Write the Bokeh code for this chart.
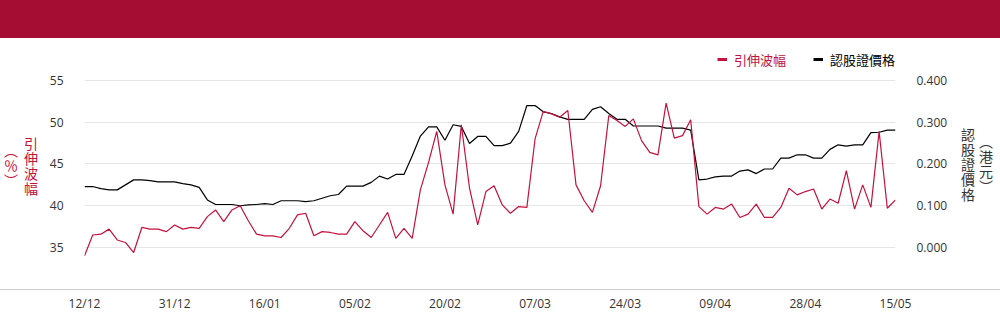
import numpy as np
from bokeh.plotting import figure
from bokeh.models import (Range1d, LinearAxis, FixedTicker, Legend, LegendItem,
                          Div, ColumnDataSource)
from bokeh.layouts import column, row
from bokeh.embed import file_html
from bokeh.resources import INLINE

dates = ["12/12", "13/12", "16/12", "17/12", "18/12", "19/12", "20/12", "23/12", "24/12", "27/12", "30/12", "31/12",
         "02/01", "03/01", "06/01", "07/01", "08/01", "09/01", "10/01", "13/01", "14/01", "15/01", "16/01",
         "17/01", "20/01", "21/01", "22/01", "23/01", "24/01", "27/01", "28/01",
         "03/02", "04/02", "05/02", "06/02", "07/02", "10/02", "11/02", "12/02", "13/02", "14/02", "17/02", "18/02",
         "19/02", "20/02", "21/02", "24/02", "25/02", "26/02", "27/02", "28/02",
         "03/03", "04/03", "05/03", "06/03", "07/03", "10/03", "11/03", "12/03", "13/03", "14/03", "17/03", "18/03",
         "19/03", "20/03", "21/03", "24/03", "25/03", "26/03", "27/03", "28/03", "31/03",
         "01/04", "02/04", "03/04", "07/04", "08/04", "09/04", "10/04", "11/04", "14/04", "15/04", "16/04", "17/04",
         "22/04", "23/04", "24/04", "25/04", "28/04", "29/04", "30/04",
         "02/05", "06/05", "07/05", "08/05", "09/05", "12/05", "13/05", "14/05", "15/05"]

implied_vol = [34.0, 36.5, 36.6, 37.2, 35.9, 35.6, 34.4, 37.4, 37.2, 37.2,
               36.9, 37.7, 37.2, 37.4, 37.3, 38.7, 39.5, 38.1, 39.5, 40.0,
               38.2, 36.6, 36.4, 36.4, 36.2, 37.3, 38.9, 39.1, 36.4, 36.9,
               36.8, 36.6, 36.6, 38.1, 37.0, 36.2, 37.7, 39.2, 36.1, 37.3,
               36.1, 41.9, 45.2, 48.9, 42.5, 39.0, 49.7, 42.1, 37.7, 41.7,
               42.4, 40.1, 39.1, 39.9, 39.8, 48.0, 51.3, 51.0, 50.6, 51.4,
               42.5, 40.6, 39.2, 42.4, 50.8, 50.2, 49.5, 50.4, 47.8, 46.4,
               46.1, 52.3, 48.1, 48.4, 50.3, 39.9, 39.0, 39.8, 39.6, 40.2,
               38.6, 39.0, 40.2, 38.6, 38.6, 39.8, 42.1, 41.3, 41.7, 42.0,
               39.6, 40.8, 40.3, 44.2, 39.6, 42.5, 39.8, 48.9, 39.7, 40.7]

warrant_price = [0.146, 0.146, 0.141, 0.138, 0.138, 0.150, 0.162, 0.162, 0.160, 0.157,
                 0.157, 0.157, 0.153, 0.150, 0.144, 0.114, 0.103, 0.103, 0.103, 0.100,
                 0.102, 0.103, 0.105, 0.103, 0.112, 0.112, 0.112, 0.110, 0.112, 0.118,
                 0.124, 0.127, 0.147, 0.147, 0.147, 0.156, 0.171, 0.164, 0.175, 0.175,
                 0.219, 0.267, 0.289, 0.289, 0.257, 0.294, 0.290, 0.249, 0.266, 0.266,
                 0.244, 0.244, 0.250, 0.278, 0.340, 0.340, 0.325, 0.321, 0.313, 0.307,
                 0.307, 0.307, 0.331, 0.337, 0.321, 0.307, 0.307, 0.291, 0.291, 0.291,
                 0.291, 0.286, 0.286, 0.286, 0.281, 0.162, 0.164, 0.169, 0.171, 0.171,
                 0.183, 0.186, 0.177, 0.188, 0.188, 0.214, 0.214, 0.222, 0.222, 0.214,
                 0.214, 0.235, 0.246, 0.243, 0.246, 0.246, 0.275, 0.276, 0.281, 0.281]

left_ticks = [35, 40, 45, 50, 55]
right_ticks = [0.0, 0.1, 0.2, 0.3, 0.4]
right_tick_labels = ["0.000", "0.100", "0.200", "0.300", "0.400"]
x_tick_step = 11
vol_name = "引伸波幅"
price_name = "認股證價格"
left_title = ("引伸波幅", "（％）")
right_title = ("認股證價格", "（港元）")

RED = "#C3123D"
HEADER = "#A50D32"
TICK_FONT = "Open Sans"
CJK = "Noto Sans CJK TC"

idx = list(range(len(dates)))
src = ColumnDataSource(data=dict(i=idx, vol=implied_vol, price=warrant_price))
xr = Range1d(0, len(dates) - 1)

# ---------------- main chart ----------------
p = figure(width=918, height=251, output_backend="svg", toolbar_location=None,
           x_range=xr, y_range=Range1d(29.97, 59.79),
           min_border_left=43, min_border_right=64, min_border_top=2,
           min_border_bottom=0, x_axis_location=None, y_axis_location=None)
p.outline_line_color = None
p.extra_y_ranges = {"price": Range1d(-0.1006, 0.4958)}


def style_axis(ax, standoff):
    ax.axis_line_color = None
    ax.major_tick_line_color = None
    ax.minor_tick_line_color = None
    ax.major_tick_out = 0
    ax.minor_tick_out = 0
    ax.major_label_standoff = standoff
    ax.major_label_text_font = TICK_FONT
    ax.major_label_text_font_size = "12px"
    ax.major_label_text_color = "#333333"


yl = LinearAxis(ticker=FixedTicker(ticks=left_ticks))
style_axis(yl, 21)
p.add_layout(yl, "left")

yr = LinearAxis(y_range_name="price", ticker=FixedTicker(ticks=right_ticks))
yr.major_label_overrides = {t: s for t, s in zip(right_ticks, right_tick_labels)}
style_axis(yr, 21)
p.add_layout(yr, "right")

p.xgrid.visible = False
p.ygrid.ticker = FixedTicker(ticks=left_ticks)
p.ygrid.grid_line_color = "#e6e6e6"
p.ygrid.grid_line_width = 1

p.line("i", "price", source=src, y_range_name="price", line_color="#000000", line_width=1.2)
p.line("i", "vol", source=src, line_color=RED, line_width=1.2)

# legend glyph stand-ins (thicker swatches, nothing drawn in the plot)
lr_red = p.line(x=[idx[0]], y=np.array([np.nan]), line_color=RED, line_width=3)
lr_blk = p.line(x=[idx[0]], y=np.array([np.nan]), line_color="#000000", line_width=3)
for rend, name, col, loc in [(lr_red, vol_name, RED, (633, 220)),
                             (lr_blk, price_name, "#000000", (729, 220))]:
    lg = Legend(items=[LegendItem(label=name, renderers=[rend])], location=loc,
                padding=0, margin=0, spacing=0, glyph_width=10, glyph_height=20,
                label_height=20, label_standoff=7, border_line_color=None,
                background_fill_alpha=0, label_text_font=CJK,
                label_text_font_size="13px", label_text_color=col)
    p.add_layout(lg)


def vtitle(cols, mode, color, lh, pad_top):
    html = (f'<div style="writing-mode:{mode};width:41px;height:251px;'
            f'box-sizing:border-box;padding-top:{pad_top}px;text-align:center;'
            f'line-height:{lh}px;letter-spacing:1px;font-family:\'{CJK}\';'
            f'font-size:14px;color:{color};">' + "<br>".join(cols) + '</div>')
    return Div(text=html, width=41, height=251, margin=0)


left_div = vtitle(left_title, "vertical-rl", RED, 20, 6)
right_div = vtitle(right_title, "vertical-lr", "#333333", 18, 3)

# ---------------- x axis strip ----------------
px = figure(width=1000, height=34, output_backend="svg", toolbar_location=None,
            x_range=xr, y_range=Range1d(0, 1), min_border_left=84,
            min_border_right=105, min_border_top=0, min_border_bottom=33,
            y_axis_location=None)
px.outline_line_color = None
px.grid.visible = False
px.xaxis.ticker = FixedTicker(ticks=idx[::x_tick_step])
px.xaxis.major_label_overrides = {i: dates[i] for i in idx[::x_tick_step]}
style_axis(px.xaxis[0], 3)

header = Div(text="", width=1000, height=38, margin=0,
             styles={"background-color": HEADER})
separator = Div(text="", width=1000, height=1, margin=0,
                styles={"background-color": "#cccccc"})

layout = column(header, row(left_div, p, right_div, spacing=0), separator, px, spacing=0)

open("out.html", "w").write(file_html(layout, INLINE))
